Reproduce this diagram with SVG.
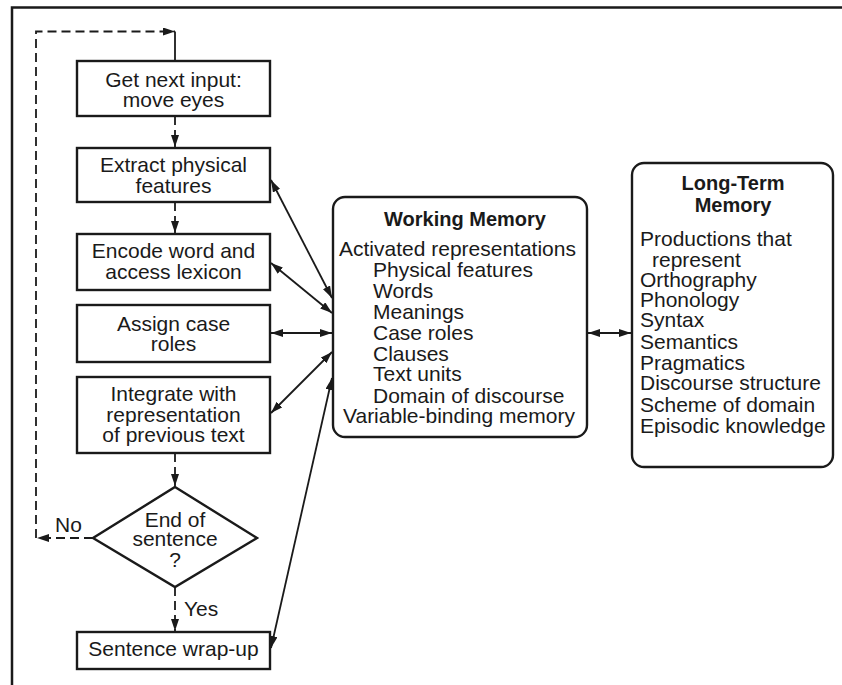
<svg xmlns="http://www.w3.org/2000/svg" width="842" height="685" viewBox="0 0 842 685">
  <style>
    .frame { fill: none; stroke: #1a1a1a; stroke-width: 2.5; }
    .box { fill: #fff; stroke: #1a1a1a; stroke-width: 2.4; }
    .txt { font-family: "Liberation Sans", Arial, sans-serif; font-size: 21px; fill: #1a1a1a; }
    .c { text-anchor: middle; }
    .b { font-weight: bold; font-size: 20px; }
    .line { fill: none; stroke: #1a1a1a; stroke-width: 1.8; }
    .dash { fill: none; stroke: #1a1a1a; stroke-width: 1.8; stroke-dasharray: 9 5; }
  </style>
  <defs>
    <marker id="arr" viewBox="0 0 12 8" refX="12" refY="4" markerWidth="12" markerHeight="8" markerUnits="userSpaceOnUse" orient="auto-start-reverse">
      <path d="M0,0 L12,4 L0,8 Z" fill="#1a1a1a"/>
    </marker>
  </defs>

  <rect width="842" height="685" fill="#fff"/>

  <!-- outer frame (top and left edges) -->
  <path class="frame" d="M12,685 V7.5 H842"/>

  <!-- connectors -->
  <g id="connectors">
    <!-- control flow -->
    <path class="dash" d="M175,116 V147" marker-end="url(#arr)"/>
    <path class="dash" d="M175,202 V233" marker-end="url(#arr)"/>
    <path class="dash" d="M175,453 V486" marker-end="url(#arr)"/>
    <path class="dash" d="M175,587 V631" marker-end="url(#arr)"/>
    <path class="dash" d="M93,538 H37" marker-end="url(#arr)"/>
    <path class="dash" d="M36,538 V31.5 H175" marker-end="url(#arr)"/>
    <path class="line" d="M175,31.5 V61"/>
    <!-- links to working memory -->
    <line class="line" x1="271" y1="180" x2="332" y2="298" marker-start="url(#arr)" marker-end="url(#arr)"/>
    <line class="line" x1="271" y1="263" x2="332" y2="313" marker-start="url(#arr)" marker-end="url(#arr)"/>
    <line class="line" x1="271" y1="333" x2="332" y2="333" marker-start="url(#arr)" marker-end="url(#arr)"/>
    <line class="line" x1="271" y1="413" x2="332" y2="352" marker-start="url(#arr)" marker-end="url(#arr)"/>
    <line class="line" x1="271" y1="648" x2="332" y2="378" marker-start="url(#arr)" marker-end="url(#arr)"/>
    <!-- working memory to long-term memory -->
    <line class="line" x1="588" y1="333" x2="631" y2="333" marker-start="url(#arr)" marker-end="url(#arr)"/>
  </g>

  <g id="get-input">
    <rect class="box" x="77" y="61" width="193" height="55"/>
    <text class="txt c" x="173.5" y="87">Get next input:</text>
    <text class="txt c" x="173.5" y="107">move eyes</text>
  </g>

  <g id="extract">
    <rect class="box" x="77" y="148" width="193" height="54"/>
    <text class="txt c" x="173.5" y="172">Extract physical</text>
    <text class="txt c" x="173.5" y="193">features</text>
  </g>

  <g id="encode">
    <rect class="box" x="77" y="234" width="193" height="56"/>
    <text class="txt c" x="173.5" y="258">Encode word and</text>
    <text class="txt c" x="173.5" y="279">access lexicon</text>
  </g>

  <g id="case-roles">
    <rect class="box" x="77" y="305" width="193" height="57"/>
    <text class="txt c" x="173.5" y="331">Assign case</text>
    <text class="txt c" x="173.5" y="351">roles</text>
  </g>

  <g id="integrate">
    <rect class="box" x="77" y="377" width="193" height="76"/>
    <text class="txt c" x="173.5" y="401">Integrate with</text>
    <text class="txt c" x="173.5" y="422">representation</text>
    <text class="txt c" x="173.5" y="442">of previous text</text>
  </g>

  <g id="end-of-sentence">
    <polygon class="box" points="175,487 257,538 175,587 93,538"/>
    <text class="txt c" x="175" y="527">End of</text>
    <text class="txt c" x="175" y="546">sentence</text>
    <text class="txt c" x="175" y="567">?</text>
    <text class="txt" x="55" y="532">No</text>
    <text class="txt" x="184" y="616">Yes</text>
  </g>

  <g id="wrap-up">
    <rect class="box" x="77" y="632" width="193" height="37"/>
    <text class="txt c" x="173.5" y="656">Sentence wrap-up</text>
  </g>

  <g id="working-memory">
    <rect class="box" x="333" y="197" width="254" height="240" rx="12" ry="12"/>
    <text class="txt c b" x="465" y="226">Working Memory</text>
    <text class="txt" x="339" y="256">Activated representations</text>
    <text class="txt" x="373" y="277">Physical features</text>
    <text class="txt" x="373" y="298">Words</text>
    <text class="txt" x="373" y="319">Meanings</text>
    <text class="txt" x="373" y="340">Case roles</text>
    <text class="txt" x="373" y="361">Clauses</text>
    <text class="txt" x="373" y="381">Text units</text>
    <text class="txt" x="373" y="403">Domain of discourse</text>
    <text class="txt" x="343" y="423">Variable-binding memory</text>
  </g>

  <g id="long-term-memory">
    <rect class="box" x="632" y="163" width="201" height="304" rx="12" ry="12"/>
    <text class="txt c b" x="733" y="190">Long-Term</text>
    <text class="txt c b" x="733" y="212">Memory</text>
    <text class="txt" x="640" y="246">Productions that</text>
    <text class="txt" x="652" y="267">represent</text>
    <text class="txt" x="640" y="287">Orthography</text>
    <text class="txt" x="640" y="307">Phonology</text>
    <text class="txt" x="640" y="327">Syntax</text>
    <text class="txt" x="640" y="349">Semantics</text>
    <text class="txt" x="640" y="370">Pragmatics</text>
    <text class="txt" x="640" y="390">Discourse structure</text>
    <text class="txt" x="640" y="412">Scheme of domain</text>
    <text class="txt" x="640" y="433">Episodic knowledge</text>
  </g>
</svg>
